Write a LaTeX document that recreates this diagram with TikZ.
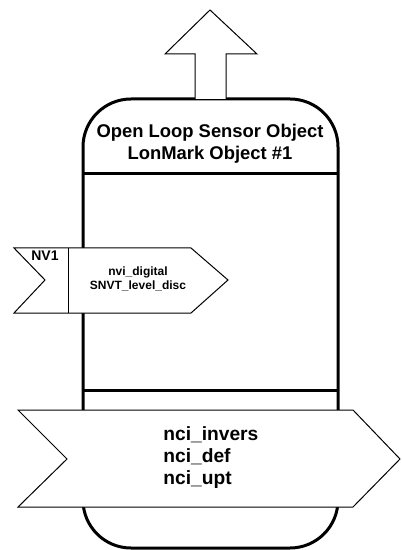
\documentclass[tikz,border=0pt]{standalone}
\usepackage{fontspec}
\setmainfont{Liberation Sans}
\usetikzlibrary{positioning}
\tikzset{
  outline/.style={line width=1.5pt},
  thinline/.style={line width=0.5pt},
  bigtext/.style={font=\bfseries\fontsize{9.2}{11}\selectfont, align=center, inner sep=0pt},
  smalltext/.style={font=\bfseries\fontsize{6}{7}\selectfont, align=center, inner sep=0pt}
}

\begin{document}
\begin{tikzpicture}[x=0.5pt,y=-0.5pt]
\useasboundingbox (0,0) rectangle (401,550);
% object body
\draw[outline, rounded corners=24pt] (83,99) rectangle (338,548);
\draw[outline] (83,174) -- (338,174);
\draw[outline] (83,390) -- (338,390);
% output arrow
\draw[thinline, fill=white] (195,99) -- (195,54) -- (165,54) -- (210,10) -- (257,54) -- (226,54) -- (226,99);
\node[bigtext] (title) at (210,144) {Open Loop Sensor Object\\LonMark Object \#1};
% input NV1
\draw[thinline, fill=white] (14,248) -- (191,248) -- (228,280) -- (191,313) -- (14,313) -- (45,280) -- cycle;
\draw[thinline] (68,248) -- (68,313);
\node[smalltext, font=\bfseries\fontsize{7}{8}\selectfont] (nvone) at (45,256) {NV1};
\node[smalltext] (nvin) at (138,279) {nvi\_digital\\SNVT\_level\_disc};
% configuration properties
\draw[thinline, fill=white] (18,410) -- (353,410) -- (400,459) -- (353,507) -- (18,507) -- (67,459) -- cycle;
\node[bigtext, font=\bfseries\fontsize{9.6}{11}\selectfont, align=left, anchor=west] (config) at (163,458) {nci\_invers\\nci\_def\\nci\_upt};
\end{tikzpicture}
\end{document}
